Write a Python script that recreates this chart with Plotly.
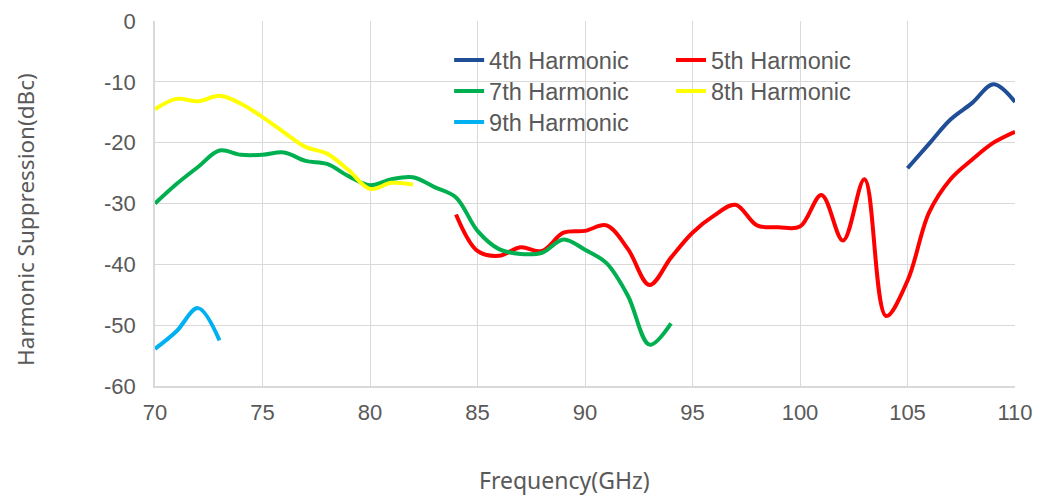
import plotly.graph_objects as go

freq_4th = [105, 106, 107, 108, 109, 110]
h4 = [-24.2, -20.2, -16.2, -13.5, -10.4, -13.3]

freq_5th = list(range(84, 111))
h5 = [-31.8, -37.8, -38.6, -37.2, -37.8, -34.8, -34.5, -33.6, -37.5, -43.4,
      -38.9, -34.8, -32.0, -30.2, -33.6, -33.9, -33.8, -28.6, -36.1, -26.0,
      -48.5, -42.7, -31.5, -26.0, -22.8, -20.0, -18.2]

freq_7th = list(range(70, 95))
h7 = [-30.0, -26.8, -24.0, -21.3, -22.0, -22.0, -21.6, -23.0, -23.5, -25.5,
      -27.0, -26.0, -25.7, -27.3, -29.0, -34.5, -37.5, -38.3, -38.1, -35.9,
      -37.6, -39.8, -45.2, -53.2, -49.7]

freq_8th = list(range(70, 83))
h8 = [-14.5, -12.8, -13.2, -12.3, -13.6, -15.8, -18.3, -20.7, -21.8, -24.5,
      -27.6, -26.6, -26.9]

freq_9th = [70, 71, 72, 73]
h9 = [-53.9, -51.0, -47.2, -52.5]

y_tick_vals = [0, -10, -20, -30, -40, -50, -60]
y_tick_text = ["0", "-10", "-20", "-30", "-40", "-50", "-60"]
x_tick_vals = [70, 75, 80, 85, 90, 95, 100, 105, 110]
x_tick_text = ["70", "75", "80", "85", "90", "95", "100", "105", "110"]

x_title = "Frequency(GHz)"
y_title = "Harmonic Suppression(dBc)"

series = [
    ("4th Harmonic", freq_4th, h4, "#1F4E96", "legend"),
    ("5th Harmonic", freq_5th, h5, "#FF0000", "legend2"),
    ("7th Harmonic", freq_7th, h7, "#00B050", "legend3"),
    ("8th Harmonic", freq_8th, h8, "#FFFF00", "legend4"),
    ("9th Harmonic", freq_9th, h9, "#00B0F0", "legend5"),
]

fig = go.Figure()
for name, xs, ys, color, leg in series:
    fig.add_trace(go.Scatter(
        x=xs, y=ys, name=name, mode="lines",
        line=dict(color=color, width=4, shape="spline", smoothing=1.0),
        legend=leg,
    ))

tick_font = dict(family="Liberation Sans, Arial, sans-serif", size=22, color="#595959")
title_font = dict(family="Noto Sans, sans-serif", size=23, color="#595959")
ytitle_font = dict(family="Noto Sans, sans-serif", size=22.5, color="#595959")

legend_common = dict(
    font=dict(family="Liberation Sans, Arial, sans-serif", size=23.5, color="#595959"),
    bgcolor="rgba(255,255,255,0)",
    yanchor="top", xanchor="left", orientation="v",
)
col1, col2 = 0.342, 0.60
row1, row2, row3 = 0.953, 0.868, 0.783

fig.update_layout(
    width=1034, height=489,
    margin=dict(l=147, r=27, t=13, b=111, autoexpand=False),
    paper_bgcolor="white", plot_bgcolor="white",
    showlegend=True,
    legend=dict(x=col1, y=row1, **legend_common),
    legend2=dict(x=col2, y=row1, **legend_common),
    legend3=dict(x=col1, y=row2, **legend_common),
    legend4=dict(x=col2, y=row2, **legend_common),
    legend5=dict(x=col1, y=row3, **legend_common),
    xaxis=dict(
        range=[70, 110], tickmode="array", tickvals=x_tick_vals, ticktext=x_tick_text,
        showgrid=True, gridcolor="#D9D9D9", gridwidth=1.3,
        showline=True, linecolor="#D9D9D9", linewidth=1.5,
        zeroline=False, ticks="", ticklabelstandoff=6, ticklabeloverflow="allow",
        tickfont=tick_font, automargin=False,
    ),
    yaxis=dict(
        range=[-60, 0], tickmode="array", tickvals=y_tick_vals, ticktext=y_tick_text,
        showgrid=True, gridcolor="#D9D9D9", gridwidth=1.3,
        showline=True, linecolor="#D9D9D9", linewidth=1.5,
        zeroline=False, ticks="", ticklabelstandoff=13, ticklabeloverflow="allow",
        tickfont=tick_font, automargin=False,
    ),
    annotations=[
        dict(text=x_title, xref="paper", yref="paper", x=0.4756, y=-0.2575,
             xanchor="center", yanchor="middle", showarrow=False, font=title_font),
        dict(text=y_title, xref="paper", yref="paper", x=-0.1512, y=0.4575,
             xanchor="center", yanchor="middle", showarrow=False, textangle=-90,
             font=ytitle_font),
    ],
)

fig.write_html("out.html")
